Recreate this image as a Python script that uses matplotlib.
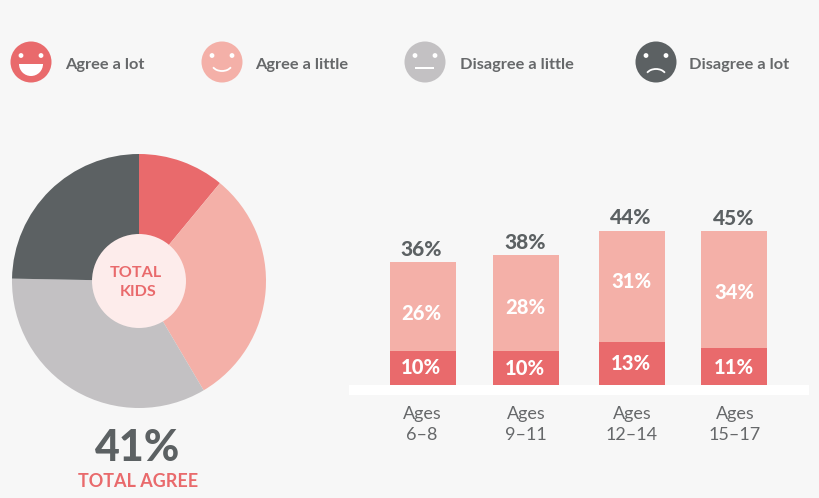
import matplotlib
matplotlib.use("Agg")
import matplotlib.pyplot as plt
from matplotlib.patches import Circle, Arc, Wedge, Rectangle

# pie values, clockwise from the top
pie_labels = ["Agree a lot", "Agree a little", "Disagree a little", "Disagree a lot"]
pie_values = [11, 30.5, 33.8, 24.7]

# stacked bars, the labels are the printed numbers
age_groups = ["Ages\n6\u20138", "Ages\n9\u201311", "Ages\n12\u201314", "Ages\n15\u201317"]
agree_lot = [10, 10, 12.6, 10.8]
agree_little = [26, 28, 32.4, 34.2]
lot_labels = ["10%", "10%", "13%", "11%"]
little_labels = ["26%", "28%", "31%", "34%"]
total_labels = ["36%", "38%", "44%", "45%"]

RED = "#e96a6c"
PINK = "#f4b0a8"
GREY = "#c3c1c3"
DARK = "#5c6163"
TEXT = "#66686a"
BG = "#f7f7f7"
W, H = 820, 498

plt.rcParams["font.family"] = ["Lato", "DejaVu Sans"]

fig = plt.figure(figsize=(W / 100, H / 100), dpi=100, facecolor=BG)


def px_axes(x0, y0, x1, y1):
    # axes from picture pixels, y measured from the top
    ax = fig.add_axes([x0 / W, 1 - y1 / H, (x1 - x0) / W, (y1 - y0) / H])
    ax.axis("off")
    return ax


# overlay in pixel coordinates for legend, band and text
bg = px_axes(0, 0, W, H)
bg.set_xlim(0, W)
bg.set_ylim(H, 0)
bg.add_patch(Rectangle((349, 385), 460, 10, fc="white", ec="none"))


def face(cx, color, kind):
    cy = 62
    bg.add_patch(Circle((cx, cy), 20.5, fc=color, ec="none"))
    for dx in (-10, 10):
        bg.add_patch(Circle((cx + dx, cy - 6.5), 2.4, fc="white", ec="none"))
    if kind == "big":
        bg.add_patch(Wedge((cx, cy + 2), 12, 0, 180, fc="white", ec="none"))
        bg.add_patch(Rectangle((cx - 12, cy + 1.5), 24, 1, fc="white", ec="none"))
    elif kind == "smile":
        bg.add_patch(Arc((cx, cy + 2), 20, 14, theta1=20, theta2=160, ec="white", lw=1.3))
    elif kind == "flat":
        bg.add_patch(Rectangle((cx - 9.5, cy + 5), 19, 2, fc="white", ec="none"))
    else:
        bg.add_patch(Arc((cx, cy + 14), 20, 14, theta1=200, theta2=340, ec="white", lw=1.3))


for cx, col, kind in zip((31, 222, 425, 656), (RED, PINK, GREY, DARK), ("big", "smile", "flat", "sad")):
    face(cx, col, kind)

for tx, lab in zip((65, 255, 460, 689), pie_labels):
    bg.text(tx, 65, lab, fontsize=11.8, fontweight="bold", color=TEXT, va="center", ha="left")

# pie
pie_ax = px_axes(12, 154, 266, 408)
pie_ax.pie(pie_values, colors=[RED, PINK, GREY, DARK], startangle=90, counterclock=False, radius=1)
pie_ax.set_xlim(-1, 1)
pie_ax.set_ylim(-1, 1)
pie_ax.add_patch(Circle((0, 0), 0.37, fc="#fdeceb", ec="none"))

bg.text(138, 448, "41%", fontsize=31, fontweight="black", color=DARK, ha="center", va="center")
bg.text(138, 481, "TOTAL AGREE", fontsize=13, fontweight="bold", color=RED, ha="center", va="center")

# bars, 1 x unit is 1 pixel
bar_x = [423, 526, 632, 734]
bar_ax = px_axes(349, 200, 809, 385)
bar_ax.set_xlim(349, 809)
bar_ax.set_ylim(0, 185 / 3.42)
bar_ax.bar(bar_x, agree_lot, width=66, color=RED)
bar_ax.bar(bar_x, agree_little, width=66, bottom=agree_lot, color=PINK)

# label rows are not centred on the segments in the reference
lot_y = [367, 368, 363, 367]
little_y = [313, 307, 281, 292]
total_y = [249, 242, 217, 218]
label_x = [421, 525, 631, 734]

label_ax = px_axes(0, 0, W, H)
label_ax.set_xlim(0, W)
label_ax.set_ylim(H, 0)
label_ax.text(136, 273, "TOTAL", fontsize=11.6, fontweight="bold", color=RED, ha="center", va="center")
label_ax.text(138, 292, "KIDS", fontsize=11.6, fontweight="bold", color=RED, ha="center", va="center")
for i, x in enumerate(label_x):
    label_ax.text(x, lot_y[i], lot_labels[i], color="white", fontsize=14.5, fontweight="black", ha="center", va="center")
    label_ax.text(x, little_y[i], little_labels[i], color="white", fontsize=14.5, fontweight="black", ha="center", va="center")
    label_ax.text(x, total_y[i], total_labels[i], color=DARK, fontsize=15, fontweight="black", ha="center", va="center")
    label_ax.text(x + 1, 424.5, age_groups[i], color=TEXT, fontsize=13, ha="center", va="center", linespacing=1.42)

fig.savefig("out.png", dpi=100, facecolor=BG)
